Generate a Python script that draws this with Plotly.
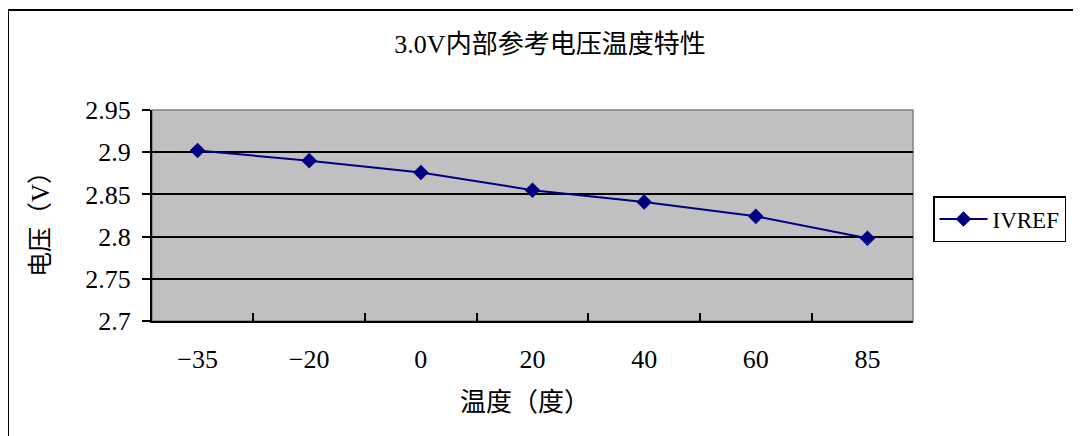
import plotly.graph_objects as go

categories = ["-35", "-20", "0", "20", "40", "60", "85"]
ivref = [2.902, 2.890, 2.876, 2.855, 2.841, 2.824, 2.798]
y_ticks = [2.7, 2.75, 2.8, 2.85, 2.9, 2.95]
y_tick_labels = ["2.7", "2.75", "2.8", "2.85", "2.9", "2.95"]
x_tick_labels = ["\u221235", "\u221220", "0", "20", "40", "60", "85"]

FONT = "Liberation Serif, Noto Sans CJK SC, serif"
NAVY = "#000080"

# page is offset by the 8px body margin
W, H = 1073, 428
PL, PR, PT, PB = 152 - 8, 913 - 8, 110 - 8, 321 - 8
PW, PH = PR - PL, PB - PT

def px(xp):  # page x -> paper x
    return (xp - 152) / PW

def py(yp):  # page y -> paper y
    return (321 - yp) / PH

fig = go.Figure()
fig.add_trace(go.Scatter(
    x=categories, y=ivref, name="IVREF", mode="lines+markers",
    line=dict(color=NAVY, width=2),
    marker=dict(symbol="diamond", size=12, color=NAVY),
))

fig.update_layout(
    width=W, height=H,
    margin=dict(l=PL, r=W - PR, t=PT, b=H - PB, autoexpand=False),
    paper_bgcolor="white", plot_bgcolor="#C0C0C0",
    font=dict(family=FONT, size=24, color="black"),
    title=dict(text="3.0V内部参考电压温度特性", x=(550 - 8) / W, xanchor="center",
               y=1 - (44 - 8) / H, yanchor="middle", font=dict(size=26, family=FONT)),
    showlegend=True,
    legend=dict(x=px(933), y=py(196), xanchor="left", yanchor="top",
                bgcolor="white", bordercolor="black", borderwidth=1.5,
                font=dict(size=23, family=FONT), itemwidth=48,
                tracegroupgap=0),
    xaxis=dict(
        type="category", tickmode="array", tickvals=categories, ticktext=x_tick_labels,
        showgrid=False, showline=True, linecolor="black", linewidth=2,
        ticks="inside", tickson="boundaries", ticklen=8, tickwidth=1.5, tickcolor="black",
        tickfont=dict(size=26, family=FONT), ticklabelstandoff=14, automargin=False,
    ),
    yaxis=dict(
        range=[2.7, 2.95], tickmode="array", tickvals=y_ticks, ticktext=y_tick_labels,
        showgrid=True, gridcolor="black", gridwidth=1.5,
        showline=True, linecolor="black", linewidth=2,
        ticks="outside", ticklen=8, tickwidth=1.5, tickcolor="black",
        tickfont=dict(size=26, family=FONT), zeroline=False,
        ticklabelstandoff=6, automargin=False,
    ),
    annotations=[
        dict(text="温度（度）", xref="paper", yref="paper", x=px(525), y=py(402),
             xanchor="center", yanchor="middle", showarrow=False,
             font=dict(size=26, family=FONT)),
        dict(text="电压（V）", xref="paper", yref="paper", x=px(40), y=py(218),
             xanchor="center", yanchor="middle", showarrow=False, textangle=-90,
             font=dict(size=25, family=FONT)),
    ],
    shapes=[
        dict(type="rect", xref="paper", yref="paper", x0=0, x1=1, y0=0, y1=1,
             line=dict(color="#808080", width=1.5), layer="below"),
        dict(type="rect", xref="paper", yref="paper",
             x0=px(8), x1=1.4, y0=-1.0, y1=py(10),
             line=dict(color="black", width=2), fillcolor="rgba(0,0,0,0)"),
    ],
)

fig.write_html("out.html")
